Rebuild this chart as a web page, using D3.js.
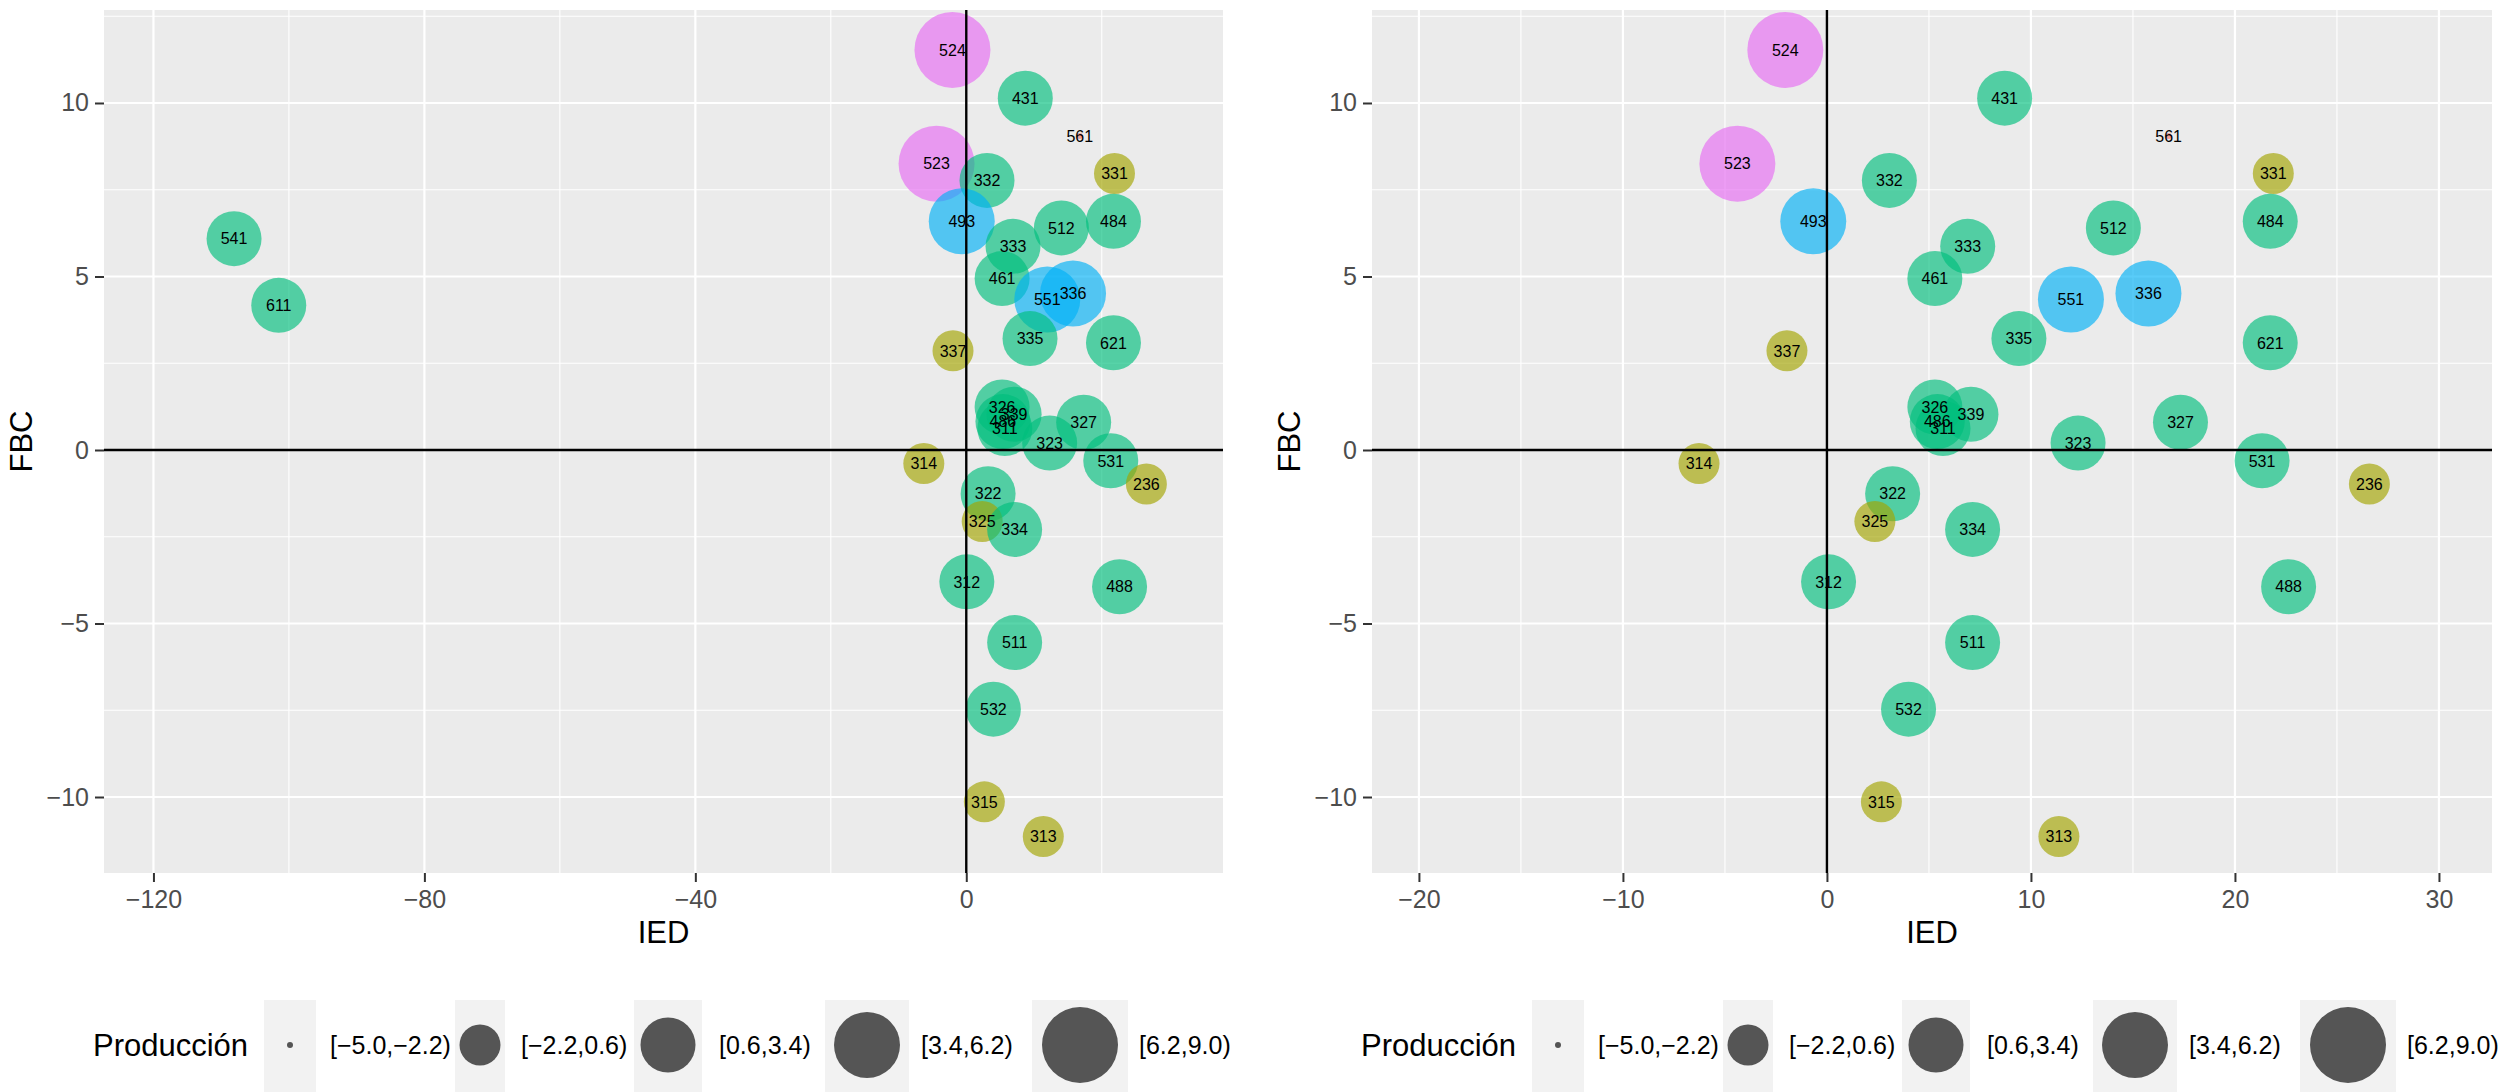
<!DOCTYPE html>
<html><head><meta charset="utf-8">
<script src="https://cdn.jsdelivr.net/npm/d3@7"></script>
<style>
body{margin:0;background:#fff}
svg{display:block}
text{font-family:"Liberation Sans",Arial,Helvetica,sans-serif}
</style>
</head><body>
<svg id="chart" width="2508" height="1092"></svg>
<script>
// ---------------- data ----------------
const codes = ["524","431","561","523","332","331","493","512","484","333","461","551","336","335","621","337","326","486","311","339","323","327","531","314","236","322","325","334","312","488","511","532","315","313","541","611"];
const ied   = [-2.04, 8.71, 16.75, -4.39, 3.06, 21.88, -0.67, 14.04, 21.73, 6.90, 5.29, 11.96, 15.76, 9.41, 21.73, -1.96, 5.29, 5.41, 5.69, 7.06, 12.31, 17.33, 21.33, -6.27, 26.59, 3.22, 2.35, 7.14, 0.08, 22.63, 7.14, 4.00, 2.67, 11.37, -108.1, -101.5];
const fbc   = [11.53, 10.14, 9.05, 8.25, 7.77, 7.97, 6.59, 6.40, 6.59, 5.87, 4.94, 4.34, 4.51, 3.21, 3.09, 2.86, 1.24, 0.82, 0.62, 1.03, 0.20, 0.80, -0.31, -0.39, -0.98, -1.26, -2.06, -2.29, -3.80, -3.94, -5.55, -7.47, -10.14, -11.14, 6.09, 4.17];
const produccion = ["[6.2,9.0)","[0.6,3.4)","[−5.0,−2.2)","[6.2,9.0)","[0.6,3.4)","[−2.2,0.6)","[3.4,6.2)","[0.6,3.4)","[0.6,3.4)","[0.6,3.4)","[0.6,3.4)","[3.4,6.2)","[3.4,6.2)","[0.6,3.4)","[0.6,3.4)","[−2.2,0.6)","[0.6,3.4)","[0.6,3.4)","[0.6,3.4)","[0.6,3.4)","[0.6,3.4)","[0.6,3.4)","[0.6,3.4)","[−2.2,0.6)","[−2.2,0.6)","[0.6,3.4)","[−2.2,0.6)","[0.6,3.4)","[0.6,3.4)","[0.6,3.4)","[0.6,3.4)","[0.6,3.4)","[−2.2,0.6)","[−2.2,0.6)","[0.6,3.4)","[0.6,3.4)"];
const sizeLevels = ["[−5.0,−2.2)","[−2.2,0.6)","[0.6,3.4)","[3.4,6.2)","[6.2,9.0)"];
const xTicksLeft  = [-120, -80, -40, 0];
const xTicksRight = [-20, -10, 0, 10, 20, 30];
const yTicks = [-10, -5, 0, 5, 10];

// ---------------- styles ----------------
const levelColors = ["#F8766D","#A3A500","#00BF7D","#00B0F6","#E76BF3"];
const levelRadius = [3, 20.5, 27.5, 33, 38];
const ALPHA = 0.65;

const data = codes.map((c,i)=>({code:c, x:ied[i], y:fbc[i], p:produccion[i]}));
const color = d3.scaleOrdinal().domain(sizeLevels).range(levelColors);
const radius = d3.scaleOrdinal().domain(sizeLevels).range(levelRadius);

const svg = d3.select("#chart");
const fmt = d3.format("");

const panels = [
  {x0:104, x1:1223, y0:10, y1:873, xDomain:[-127.3, 37.9], xTicks:xTicksLeft, yTitleX:32, legendX:93},
  {x0:1372, x1:2492, y0:10, y1:873, xDomain:[-22.3, 32.6], xTicks:xTicksRight, yTitleX:1300, legendX:1361}
];
const yDomain = [-12.19, 12.68];

function minorTicks(ticks, dom){
  const step = ticks[1]-ticks[0];
  const out = [];
  for(let v = ticks[0]-step/2; v <= dom[1]; v += step){
    if(v >= dom[0]) out.push(v);
  }
  return out;
}

panels.forEach(P=>{
  const x = d3.scaleLinear().domain(P.xDomain).range([P.x0, P.x1]);
  const y = d3.scaleLinear().domain(yDomain).range([P.y1, P.y0]);
  const g = svg.append("g");
  const clipId = "clip"+P.x0;
  svg.append("clipPath").attr("id", clipId).append("rect")
    .attr("x",P.x0).attr("y",P.y0).attr("width",P.x1-P.x0).attr("height",P.y1-P.y0);

  g.append("rect").attr("x",P.x0).attr("y",P.y0).attr("width",P.x1-P.x0).attr("height",P.y1-P.y0).attr("fill","#EBEBEB");

  const xMinor = minorTicks(P.xTicks, P.xDomain);
  const yMinor = minorTicks(yTicks, yDomain);
  g.selectAll(".xmin").data(xMinor).join("line")
    .attr("x1",d=>x(d)).attr("x2",d=>x(d)).attr("y1",P.y0).attr("y2",P.y1)
    .attr("stroke","#fff").attr("stroke-width",1.1);
  g.selectAll(".ymin").data(yMinor).join("line")
    .attr("y1",d=>y(d)).attr("y2",d=>y(d)).attr("x1",P.x0).attr("x2",P.x1)
    .attr("stroke","#fff").attr("stroke-width",1.1);
  g.selectAll(".xmaj").data(P.xTicks).join("line")
    .attr("x1",d=>x(d)).attr("x2",d=>x(d)).attr("y1",P.y0).attr("y2",P.y1)
    .attr("stroke","#fff").attr("stroke-width",2.2);
  g.selectAll(".ymaj").data(yTicks).join("line")
    .attr("y1",d=>y(d)).attr("y2",d=>y(d)).attr("x1",P.x0).attr("x2",P.x1)
    .attr("stroke","#fff").attr("stroke-width",2.2);

  // axes
  const xAxis = d3.axisBottom(x).tickValues(P.xTicks).tickSize(9).tickPadding(8).tickFormat(fmt);
  const ax = svg.append("g").attr("transform",`translate(0,${P.y1})`).call(xAxis);
  ax.select(".domain").remove();
  ax.selectAll(".tick line").attr("stroke","#333").attr("stroke-width",2);
  ax.selectAll(".tick text").attr("fill","#4D4D4D").attr("font-size",25).attr("font-family",null);

  const yAxis = d3.axisLeft(y).tickValues(yTicks).tickSize(9).tickPadding(6).tickFormat(fmt);
  const ay = svg.append("g").attr("transform",`translate(${P.x0},0)`).call(yAxis);
  ay.select(".domain").remove();
  ay.selectAll(".tick line").attr("stroke","#333").attr("stroke-width",2);
  ay.selectAll(".tick text").attr("fill","#4D4D4D").attr("font-size",25).attr("font-family",null);

  // axis titles
  svg.append("text").attr("x",(P.x0+P.x1)/2).attr("y",943).attr("text-anchor","middle")
    .attr("font-size",31).attr("fill","#000").text("IED");
  svg.append("text").attr("transform",`translate(${P.yTitleX},${(P.y0+P.y1)/2}) rotate(-90)`)
    .attr("text-anchor","middle").attr("font-size",31).attr("fill","#000").text("FBC");

  // points
  const visible = data.filter(d=>d.x>=P.xDomain[0] && d.x<=P.xDomain[1]);
  const pg = svg.append("g").attr("clip-path",`url(#${clipId})`);
  pg.selectAll("circle").data(visible).join("circle")
    .attr("cx",d=>x(d.x)).attr("cy",d=>y(d.y)).attr("r",d=>radius(d.p))
    .attr("fill",d=>color(d.p)).attr("fill-opacity",ALPHA);
  pg.selectAll("text").data(visible).join("text")
    .attr("x",d=>x(d.x)).attr("y",d=>y(d.y)).attr("dy","0.36em")
    .attr("text-anchor","middle").attr("font-size",16).attr("fill","#000").text(d=>d.code);

  // reference lines
  pg.append("line").attr("x1",P.x0).attr("x2",P.x1).attr("y1",y(0)).attr("y2",y(0))
    .attr("stroke","#000").attr("stroke-width",2.6);
  pg.append("line").attr("x1",x(0)).attr("x2",x(0)).attr("y1",P.y0).attr("y2",P.y1)
    .attr("stroke","#000").attr("stroke-width",2.4);

  // legend
  const L = svg.append("g").attr("transform",`translate(${P.legendX},0)`);
  const cy = 1045;
  L.append("text").attr("x",0).attr("y",cy+11).attr("font-size",31).attr("fill","#000").text("Producción");
  const keyCenters = [197, 387, 575, 774, 987];
  const keyWidths  = [52, 50, 68, 84, 96];
  const labelStarts = [237, 428, 626, 828, 1046];
  sizeLevels.forEach((lv,i)=>{
    L.append("rect").attr("x",keyCenters[i]-keyWidths[i]/2).attr("y",1000)
      .attr("width",keyWidths[i]).attr("height",92).attr("fill","#F2F2F2");
    L.append("circle").attr("cx",keyCenters[i]).attr("cy",cy).attr("r",radius(lv))
      .attr("fill","#000").attr("fill-opacity",ALPHA);
    L.append("text").attr("x",labelStarts[i]).attr("y",cy+9).attr("font-size",25).attr("fill","#000").text(lv);
  });
});
</script>
</body></html>
